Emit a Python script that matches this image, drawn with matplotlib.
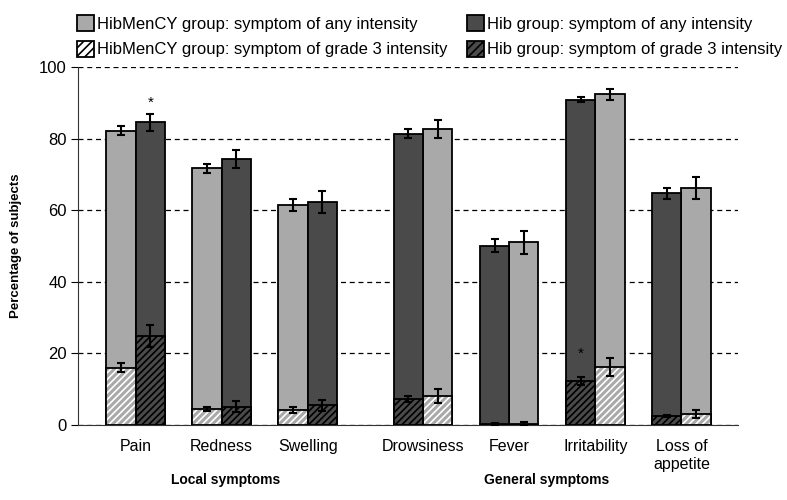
import matplotlib
matplotlib.use('Agg')
import matplotlib.pyplot as plt
from matplotlib.patches import Patch
import numpy as np

plt.rcParams['font.family'] = ['Liberation Sans', 'DejaVu Sans']
plt.rcParams['hatch.linewidth'] = 1.2

categories = ["Pain", "Redness", "Swelling", "Drowsiness", "Fever", "Irritability", "Loss of\nappetite"]
group_labels = ["Local symptoms", "General symptoms"]

# HibMenCY group
menc_any = [82.2, 71.7, 61.4, 82.8, 51.1, 92.4, 66.2]
menc_any_err = [1.3, 1.3, 1.6, 2.5, 3.2, 1.5, 3.0]
menc_g3 = [16.0, 4.4, 4.2, 8.1, 0.4, 16.2, 3.1]
menc_g3_err = [1.2, 0.5, 0.8, 2.0, 0.3, 2.5, 1.2]

# Hib group
hib_any = [84.5, 74.3, 62.3, 81.4, 50.1, 90.9, 64.7]
hib_any_err = [2.5, 2.5, 3.0, 1.2, 1.8, 0.8, 1.5]
hib_g3 = [24.8, 5.1, 5.5, 7.2, 0.3, 12.3, 2.5]
hib_g3_err = [3.0, 1.5, 1.6, 0.8, 0.2, 1.2, 0.3]

# local symptoms: HibMenCY left, general symptoms: Hib left
hib_left = [False, False, False, True, True, True, True]
significant = [("Pain", 90), ("Irritability", 20)]  # asterisk on Hib bar

LIGHT = '#a9a9a9'
DARK = '#4a4a4a'

x = np.array([0, 1, 2, 3.34, 4.34, 5.34, 6.34])
w = 0.34

fig = plt.figure(figsize=(7.87, 5.0), dpi=100)
ax = fig.add_axes([0.099, 0.15, 0.839, 0.716])


def draw(pos, any_v, any_e, g3_v, g3_e, color, hatch_col):
    ax.bar(pos, any_v, w, color=color, edgecolor='black', linewidth=1.3, zorder=3)
    ax.bar(pos, g3_v, w, color=color, edgecolor=hatch_col, hatch='/////', linewidth=0, zorder=4)
    ax.bar(pos, g3_v, w, fill=False, edgecolor='black', linewidth=1.3, zorder=5)
    ax.errorbar(pos, any_v, yerr=any_e, fmt='none', ecolor='black', elinewidth=1.5,
                capsize=3, capthick=1.5, zorder=6)
    ax.errorbar(pos, g3_v, yerr=g3_e, fmt='none', ecolor='black', elinewidth=1.5,
                capsize=3, capthick=1.5, zorder=6)


sign = np.array([1 if h else -1 for h in hib_left])
menc_pos = x + sign * w / 2
hib_pos = x - sign * w / 2
draw(menc_pos, menc_any, menc_any_err, menc_g3, menc_g3_err, LIGHT, 'white')
draw(hib_pos, hib_any, hib_any_err, hib_g3, hib_g3_err, DARK, 'black')

for name, yv in significant:
    i = categories.index(name)
    ax.text(hib_pos[i], yv, '*', ha='center', va='center', fontsize=11, zorder=7)

ax.set_xlim(-0.67, 7.0)
ax.set_ylim(0, 100)
ax.set_yticks(range(0, 101, 20))
ax.tick_params(axis='y', labelsize=12, length=5, direction='out', pad=3)
ax.set_xticks(x)
ax.set_xticklabels(categories, fontsize=11.5, linespacing=1.3)
ax.tick_params(axis='x', length=0, pad=10)
ax.yaxis.grid(True, linestyle=(0, (4, 3)), color='black', linewidth=0.9)
ax.set_axisbelow(True)
for s in ['top', 'right']:
    ax.spines[s].set_visible(False)
ax.spines['left'].set_color('#333333')
ax.spines['bottom'].set_color('#333333')
ax.set_ylabel('Percentage of subjects', fontsize=9.5, fontweight='bold', labelpad=12)

ax.text(1.05, -15.3, group_labels[0], ha='center', va='center', fontsize=10,
        fontweight='bold')
ax.text(4.77, -15.3, group_labels[1], ha='center', va='center', fontsize=10,
        fontweight='bold')

handles = [
    Patch(facecolor=LIGHT, edgecolor='black', linewidth=1.3),
    Patch(facecolor='white', edgecolor='black', hatch='////', linewidth=1.3),
    Patch(facecolor=DARK, edgecolor='black', linewidth=1.3),
    Patch(facecolor=DARK, edgecolor='black', hatch='////', linewidth=1.3),
]
labels = [
    "HibMenCY group: symptom of any intensity",
    "HibMenCY group: symptom of grade 3 intensity",
    "Hib group: symptom of any intensity",
    "Hib group: symptom of grade 3 intensity",
]
fig.legend(handles, labels, ncol=2, loc='upper left', bbox_to_anchor=(0.09, 0.983),
           frameon=False, fontsize=12, handlelength=1.0, handleheight=1.1,
           handletextpad=0.2, columnspacing=1.14, labelspacing=0.53, borderaxespad=0)

fig.savefig('out.png', dpi=100)
